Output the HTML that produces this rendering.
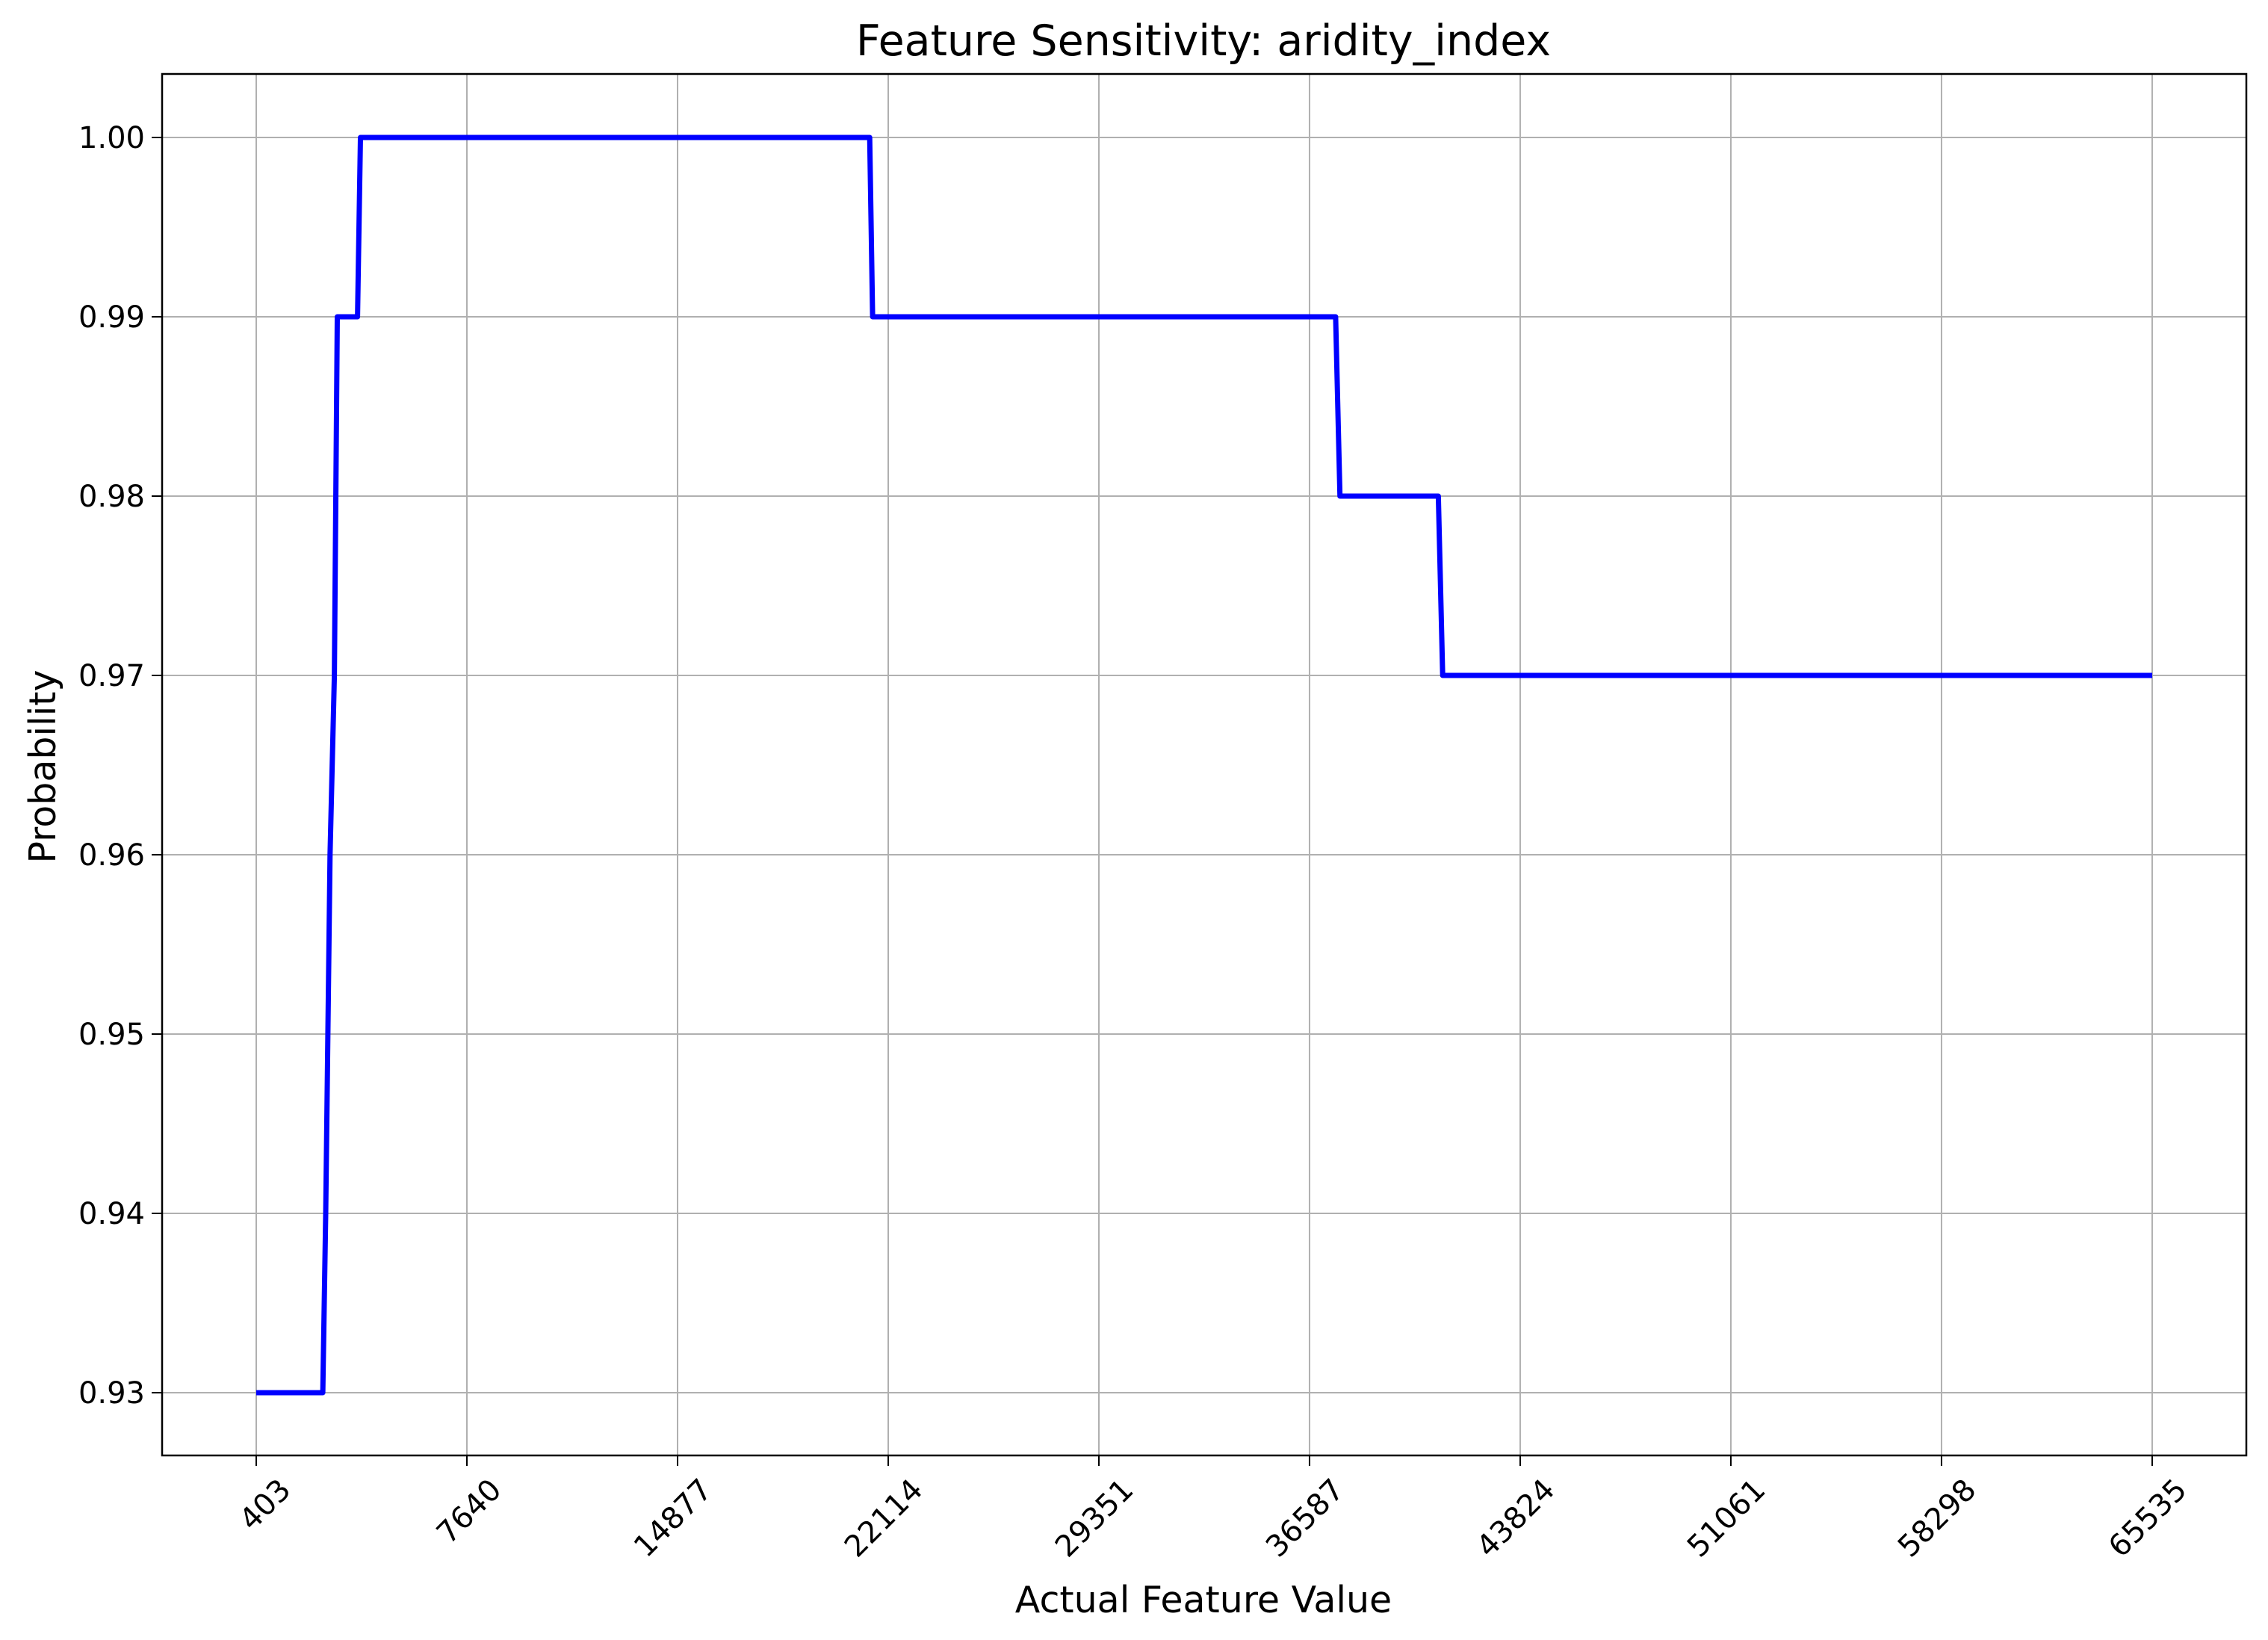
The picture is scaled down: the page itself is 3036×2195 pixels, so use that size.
<!DOCTYPE html>
<html><head><meta charset="utf-8"><style>
html,body{margin:0;padding:0;background:#fff;}
svg{display:block;font-family:"DejaVu Sans","Liberation Sans",sans-serif;}
</style></head><body>
<svg id="chart" width="3036" height="2195" viewBox="0 0 3036 2195">
<rect x="0" y="0" width="3036" height="2195" fill="#fff"/>
<g id="grid"></g>
<g id="series"></g>
<rect x="217" y="99" width="2790" height="1849" fill="none" stroke="#000" stroke-width="2.5"/>
<g id="ticks"></g>
<text x="1611" y="74" font-size="57" text-anchor="middle">Feature Sensitivity: aridity_index</text>
<text x="1611" y="2158" font-size="49" text-anchor="middle">Actual Feature Value</text>
<text transform="translate(74,1026) rotate(-90)" font-size="49" text-anchor="middle">Probability</text>
</svg>
<script>
const xTickValues = [403, 7640, 14877, 22114, 29351, 36587, 43824, 51061, 58298, 65535];
const yTickValues = [0.93, 0.94, 0.95, 0.96, 0.97, 0.98, 0.99, 1.00];
const yTickLabels = ["0.93","0.94","0.95","0.96","0.97","0.98","0.99","1.00"];
const featureValues = [403, 2690, 2789, 2938, 3087, 3187, 3882, 3982, 21478, 21577, 37483, 37632, 41012, 41161, 65535];
const probabilities = [0.93, 0.93, 0.94, 0.96, 0.97, 0.99, 0.99, 1.00, 1.00, 0.99, 0.99, 0.98, 0.98, 0.97, 0.97];

const NS = "http://www.w3.org/2000/svg";
function xs(v){ return 343 + (v - 403) / 7237 * 282; }
function ys(v){ return 1864 - (v - 0.93) / 0.01 * 240; }
const grid = document.getElementById('grid');
const ticks = document.getElementById('ticks');
const series = document.getElementById('series');
function mk(tag, attrs, parent){ const e = document.createElementNS(NS, tag); for (const k in attrs) e.setAttribute(k, attrs[k]); parent.appendChild(e); return e; }

xTickValues.forEach(v => {
  const x = xs(v);
  const g = mk('line', {x1:x, x2:x, y1:99, y2:1948, stroke:'#b0b0b0', 'stroke-width':2}, grid);
  
  
  const t = mk('line', {x1:x, x2:x, y1:1948, y2:1962, stroke:'#000', 'stroke-width':2}, ticks);
  
  
  const l = mk('text', {transform:'translate(' + (x + 28) + ',1976) rotate(-45)', 'font-size':40, 'text-anchor':'end', 'dominant-baseline':'hanging'}, ticks);
  l.textContent = String(v);
  
  
});
yTickValues.forEach((v, i) => {
  const y = ys(v);
  const g = mk('line', {x1:217, x2:3007, y1:y, y2:y, stroke:'#b0b0b0', 'stroke-width':2}, grid);
  
  
  const t = mk('line', {x1:203, x2:217, y1:y, y2:y, stroke:'#000', 'stroke-width':2}, ticks);
  
  
  const l = mk('text', {x:194, y:y + 14, 'font-size':40, 'text-anchor':'end'}, ticks);
  l.textContent = yTickLabels[i];
  
  
});
const pts = featureValues.map((v, i) => xs(v).toFixed(1) + ',' + ys(probabilities[i]).toFixed(1)).join(' ');
const line = mk('polyline', {points:pts, fill:'none', stroke:'#0000ff', 'stroke-width':7, 'stroke-linejoin':'round'}, series);


</script>
</body></html>
